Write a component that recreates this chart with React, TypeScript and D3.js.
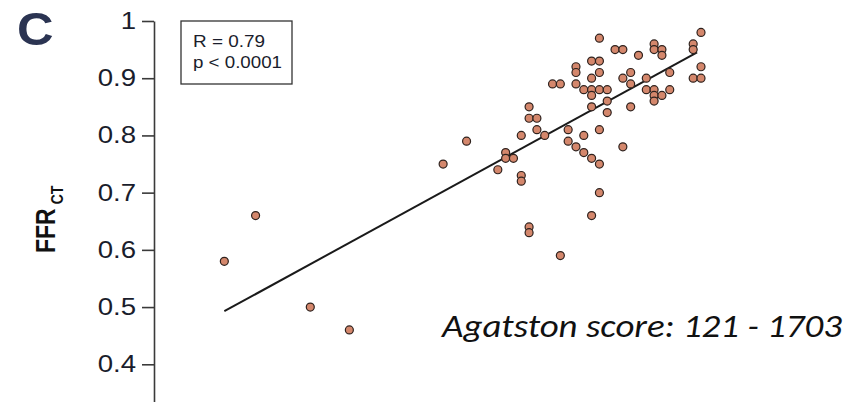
import * as d3 from 'd3';
import { useEffect, useRef } from 'react';

// invasive FFR (x, not labelled in the crop) and FFR-CT (y) for each lesion
const ffrX = [
    0.87, 0.89, 0.90, 0.92, 0.94, 0.94, 0.95, 0.95, 0.99, 0.99, 1.00,
    0.86, 0.87, 0.84, 0.84, 0.87, 0.86, 0.90, 0.91, 0.93, 0.96, 1.00, 0.99, 1.00,
    0.81, 0.82, 0.84, 0.85, 0.86, 0.87, 0.88, 0.91, 0.93, 0.94, 0.96,
    0.86, 0.94, 0.95, 0.94, 0.88, 0.86, 0.91, 0.88,
    0.78, 0.78, 0.79, 0.79, 0.83, 0.87, 0.77, 0.80, 0.85, 0.70, 0.83, 0.84, 0.90,
    0.85, 0.86, 0.87, 0.67, 0.75, 0.75, 0.76, 0.74, 0.77, 0.77,
    0.87, 0.86, 0.78, 0.78, 0.82, 0.39, 0.43, 0.50, 0.55
];
const ffrCtY = [
    0.97, 0.95, 0.95, 0.94, 0.96, 0.95, 0.95, 0.94, 0.96, 0.95, 0.98,
    0.93, 0.93, 0.92, 0.91, 0.91, 0.90, 0.90, 0.91, 0.90, 0.91, 0.92, 0.90, 0.90,
    0.89, 0.89, 0.89, 0.88, 0.88, 0.88, 0.88, 0.89, 0.88, 0.88, 0.88,
    0.87, 0.87, 0.87, 0.86, 0.86, 0.85, 0.85, 0.84,
    0.85, 0.83, 0.83, 0.81, 0.81, 0.81, 0.80, 0.80, 0.80, 0.79, 0.79, 0.78, 0.78,
    0.77, 0.76, 0.75, 0.75, 0.77, 0.76, 0.76, 0.74, 0.73, 0.72,
    0.70, 0.66, 0.64, 0.63, 0.59, 0.58, 0.66, 0.50, 0.46
];

// regression line
const fitSlope = 0.7475;
const fitIntercept = 0.2012;
const fitRange = [0.39, 0.995];

const yTicks = [0.4, 0.5, 0.6, 0.7, 0.8, 0.9, 1];
const statLines = ['R = 0.79', 'p < 0.0001'];
const statWidths = [72, 89];
const panelLabel = 'C';
const note = 'Agatston score: 121 - 1703';

function App() {
    const svgRef = useRef<SVGSVGElement>(null);

    useEffect(() => {
        if (!svgRef.current) return;
        const svg = d3.select(svgRef.current);
        svg.selectAll('*').remove();

        const x = d3.scaleLinear().domain([0.3, 1.0]).range([154, 701]);
        const y = d3.scaleLinear().domain([0.3, 1.0]).range([421.5, 21]);

        // y axis
        const yAxis = svg.append('g')
            .attr('transform', `translate(${x(0.3)},0)`)
            .call(d3.axisLeft(y)
                .tickValues(yTicks)
                .tickFormat(d => (d === 1 ? '1' : d3.format('.1f')(d as number)))
                .tickSize(12)
                .tickSizeOuter(0));

        yAxis.select('.domain')
            .attr('stroke', '#3a3a3a')
            .attr('stroke-width', 1.6);
        yAxis.selectAll('.tick line')
            .attr('stroke', '#3a3a3a')
            .attr('stroke-width', 1.6);
        yAxis.selectAll('.tick text')
            .attr('x', -15)
            .attr('transform', 'scale(1.2,1)')
            .attr('fill', '#1a1d2c')
            .attr('font-family', "'Liberation Sans', Arial, sans-serif")
            .attr('font-size', 23);

        // y label FFR_CT
        const label = svg.append('text')
            .attr('transform', 'translate(55,253) scale(1.2,1) rotate(-90)')
            .attr('font-family', "'Liberation Sans', Arial, sans-serif")
            .attr('font-weight', 'bold')
            .attr('fill', '#111');
        label.append('tspan').attr('font-size', 23).text('FFR');
        label.append('tspan').attr('font-size', 14).attr('dx', 4).attr('dy', 6.5).text('CT');

        // panel letter
        svg.append('text')
            .attr('transform', 'translate(17,45) scale(1.1,1)')
            .attr('font-family', "'Liberation Sans', Arial, sans-serif")
            .attr('font-weight', 'bold')
            .attr('font-size', 46)
            .attr('fill', '#2b3452')
            .text(panelLabel);

        // stats box
        svg.append('rect')
            .attr('x', 181)
            .attr('y', 21)
            .attr('width', 111)
            .attr('height', 63)
            .attr('fill', 'none')
            .attr('stroke', '#333')
            .attr('stroke-width', 1.3);

        svg.selectAll('.stat')
            .data(statLines)
            .enter().append('text')
            .attr('class', 'stat')
            .attr('x', 193)
            .attr('y', (d, i) => 46.5 + i * 21.5)
            .attr('textLength', (d, i) => statWidths[i])
            .attr('lengthAdjust', 'spacingAndGlyphs')
            .attr('font-family', "'Liberation Sans', Arial, sans-serif")
            .attr('font-size', 16)
            .attr('fill', '#1a1d2c')
            .text(d => d);

        // regression line
        const line = d3.line<number>()
            .x(d => x(d))
            .y(d => y(fitIntercept + fitSlope * d));

        svg.append('path')
            .datum(fitRange)
            .attr('d', line)
            .attr('fill', 'none')
            .attr('stroke', '#1a1a1a')
            .attr('stroke-width', 2);

        // points
        svg.selectAll('.dot')
            .data(ffrX)
            .enter().append('circle')
            .attr('class', 'dot')
            .attr('cx', d => x(d))
            .attr('cy', (d, i) => y(ffrCtY[i]))
            .attr('r', 4)
            .attr('fill', '#d4876c')
            .attr('stroke', '#2e221e')
            .attr('stroke-width', 1.2);

        // overlay note
        svg.append('text')
            .attr('x', 442)
            .attr('y', 336.5)
            .attr('textLength', 400)
            .attr('lengthAdjust', 'spacingAndGlyphs')
            .attr('font-family', "Carlito, 'Open Sans', sans-serif")
            .attr('font-style', 'italic')
            .attr('font-size', 33)
            .attr('fill', '#111')
            .text(note);

        return () => {
            d3.select(svgRef.current).selectAll('*').remove();
        };
    }, []);

    return (
        <svg
            ref={svgRef}
            width={860}
            height={402}
            style={{ position: 'absolute', left: 0, top: 0, background: '#fff' }}
        />
    );
}

export default App;
